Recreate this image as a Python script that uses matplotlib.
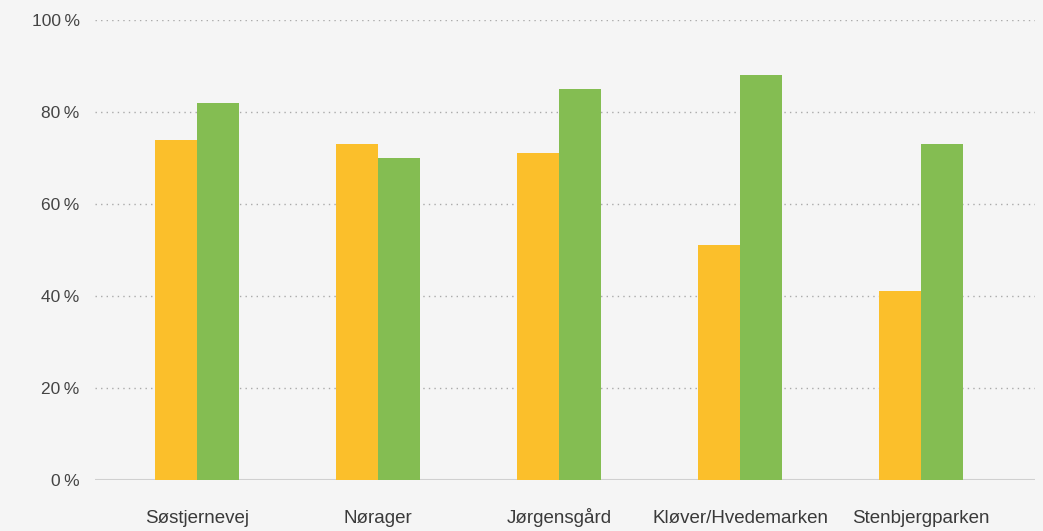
import numpy as np
import matplotlib.pyplot as plt

categories = ["Søstjernevej", "Nørager", "Jørgensgård", "Kløver/Hvedemarken", "Stenbjergparken"]
orange_vals = [74, 73, 71, 51, 41]
green_vals = [82, 70, 85, 88, 73]
yticks = [0, 20, 40, 60, 80, 100]

plt.rcParams['font.family'] = ['Liberation Sans', 'DejaVu Sans']

bg = '#f5f5f5'
fig = plt.figure(figsize=(10.43, 5.31), dpi=100, facecolor=bg)
ax = fig.add_axes([95 / 1043, 51 / 531, 940 / 1043, 460 / 531], facecolor=bg)

x = np.arange(len(categories))
w = 0.232
ax.bar(x - w / 2, orange_vals, w, color='#fbbf2b', zorder=3)
ax.bar(x + w / 2, green_vals, w, color='#84bd52', zorder=3)

ax.set_xlim(-0.564, 4.63)
ax.set_ylim(0, 100)
ax.set_yticks(yticks)
ax.set_yticklabels([f"{v}\u2009%" for v in yticks], fontsize=12.5, color='#444444')
ax.set_xticks(x)
ax.set_xticklabels(categories, fontsize=13.5, color='#3a3a3a', va='baseline')
ax.tick_params(axis='y', length=0, pad=11)
ax.tick_params(axis='x', length=0, pad=31)

for v in yticks[1:]:
    ax.axhline(v, color='#aaaaaa', linestyle=(0, (1, 3)), linewidth=1, zorder=1)
ax.axhline(0, color='#d0d0d0', linewidth=1.5, zorder=2)

for s in ax.spines.values():
    s.set_visible(False)

fig.savefig('out.png', dpi=100, facecolor=bg)
